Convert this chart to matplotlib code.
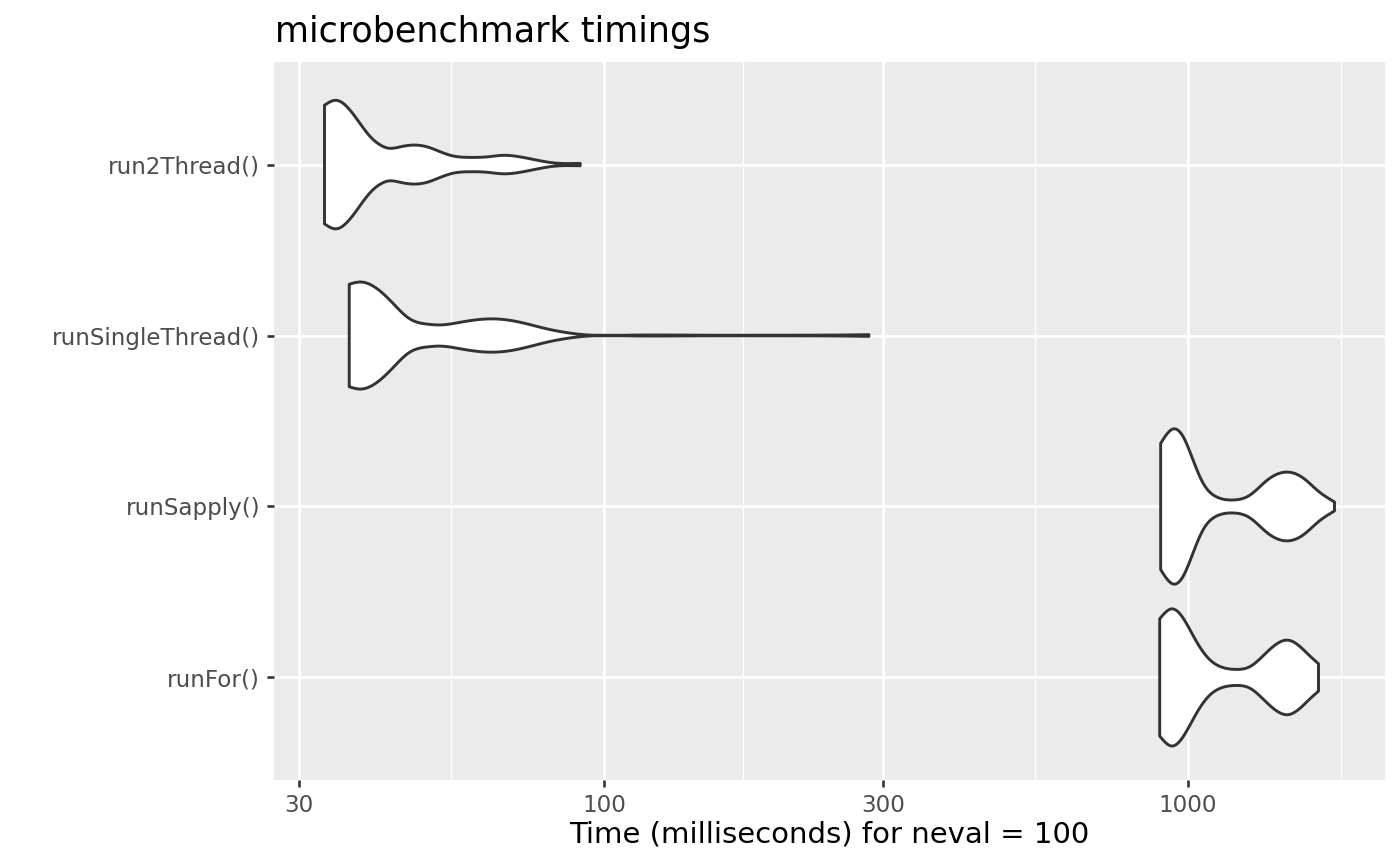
import numpy as np
import matplotlib
matplotlib.use("Agg")
import matplotlib.pyplot as plt

# categories, bottom to top
categories = ["runFor()", "runSapply()", "runSingleThread()", "run2Thread()"]

# violin outlines: time (ms) and half-width (category units)
runfor_ms = [893.8, 937.8, 979.3, 1032.4, 1087.9, 1146.5, 1208.7, 1273.5,
             1360.2, 1433.6, 1481.2, 1550.8, 1613.0, 1671.6]
runfor_hw = [0.343, 0.401, 0.349, 0.212, 0.105, 0.058, 0.047, 0.062,
             0.144, 0.206, 0.218, 0.183, 0.128, 0.080]

runsapply_ms = [897.2, 941.5, 979.3, 1018.6, 1059.6, 1117.0, 1192.9, 1273.5,
                1360.2, 1471.7, 1571.3, 1678.2, 1757.3, 1780.5]
runsapply_hw = [0.369, 0.453, 0.411, 0.275, 0.139, 0.057, 0.038, 0.065,
                0.149, 0.201, 0.168, 0.084, 0.038, 0.026]

runsingle_ms = [36.6, 38.3, 40.8, 43.5, 46.3, 50.0, 52.4, 56.6, 63.2, 68.3,
                73.8, 79.8, 86.3, 93.2, 110.0, 145.9, 200.0, 253.3, 284.0]
runsingle_hw = [0.300, 0.313, 0.275, 0.188, 0.101, 0.066, 0.062, 0.077, 0.097,
                0.091, 0.068, 0.039, 0.017, 0.004, 0.002, 0.002, 0.002, 0.003, 0.005]

run2thread_ms = [33.2, 34.7, 36.3, 38.2, 39.8, 41.4, 42.7, 44.8, 47.2, 49.7,
                 52.4, 55.2, 59.0, 63.0, 67.2, 71.8, 76.7, 81.9, 91.0]
run2thread_hw = [0.347, 0.376, 0.337, 0.240, 0.162, 0.114, 0.096, 0.104, 0.114,
                 0.104, 0.075, 0.050, 0.042, 0.045, 0.054, 0.045, 0.026, 0.010, 0.007]

x_breaks = [30, 100, 300, 1000]
x_labels = ["30", "100", "300", "1000"]

profiles = [(runfor_ms, runfor_hw), (runsapply_ms, runsapply_hw),
            (runsingle_ms, runsingle_hw), (run2thread_ms, run2thread_hw)]


def smooth_curve(x, y, xs):
    # natural cubic spline, only to draw a smooth outline through the read points
    x = np.asarray(x, float)
    y = np.asarray(y, float)
    n = len(x)
    h = np.diff(x)
    d = np.diff(y) / h
    A = np.zeros((n, n))
    r = np.zeros(n)
    A[0, 0] = A[-1, -1] = 1
    for i in range(1, n - 1):
        A[i, i - 1] = h[i - 1]
        A[i, i] = 2 * (h[i - 1] + h[i])
        A[i, i + 1] = h[i]
        r[i] = 6 * (d[i] - d[i - 1])
    M = np.linalg.solve(A, r)
    idx = np.clip(np.searchsorted(x, xs) - 1, 0, n - 2)
    hi = h[idx]
    a = x[idx + 1] - xs
    b = xs - x[idx]
    return (M[idx] * a**3 / (6 * hi) + M[idx + 1] * b**3 / (6 * hi)
            + (y[idx] / hi - M[idx] * hi / 6) * a
            + (y[idx + 1] / hi - M[idx + 1] * hi / 6) * b)


fig = plt.figure(figsize=(14, 8.65), dpi=100)
ax = fig.add_axes([274 / 1400, 1 - 780 / 865, 1111 / 1400, 718 / 865])
ax.set_facecolor("#EBEBEB")
for s in ax.spines.values():
    s.set_visible(False)

ax.set_xscale("log")

for i, (ms, hw) in enumerate(profiles):
    lx = np.log10(ms)
    xs = np.linspace(lx[0], lx[-1], 500)
    w = np.clip(smooth_curve(lx, hw, xs), 0.0015, None)
    t = 10 ** xs
    y0 = i + 1
    px = np.concatenate([t, t[::-1]])
    py = np.concatenate([y0 + w, (y0 - w)[::-1]])
    ax.fill(px, py, facecolor="white", edgecolor="#333333", linewidth=2.1,
            joinstyle="round", zorder=3)

# minor breaks like ggplot: midpoints between (extended) major breaks
lb = np.log10(x_breaks)
ext = np.concatenate([[lb[0] - (lb[1] - lb[0])], lb, [lb[-1] + (lb[-1] - lb[-2])]])
minor = 10 ** ((ext[:-1] + ext[1:]) / 2)
ax.set_xticks(x_breaks)
ax.set_xticklabels(x_labels)
ax.set_xticks(minor, minor=True)
ax.set_yticks(range(1, len(categories) + 1))
ax.set_yticklabels(categories)

# limits: 5% expansion in log space, 0.6 on the discrete axis (after ticks)
all_ms = np.log10(np.concatenate([np.asarray(p[0]) for p in profiles]))
lo, hi = all_ms.min(), all_ms.max()
pad = 0.05 * (hi - lo)
ax.set_xlim(10 ** (lo - pad), 10 ** (hi + pad))
ax.set_ylim(0.4, len(categories) + 0.6)

ax.grid(which="major", color="white", linewidth=1.95, zorder=0)
ax.grid(which="minor", axis="x", color="white", linewidth=1.0, zorder=0)
ax.set_axisbelow(True)

ax.tick_params(which="major", length=5, width=1.9, color="#333333", pad=5,
               labelsize=16.6, labelcolor="#4D4D4D")
ax.tick_params(which="minor", length=0)

fig.text(275 / 1400, 1 - 42 / 865, "microbenchmark timings", fontsize=25.2,
         color="black", ha="left", va="baseline")
fig.text(829.5 / 1400, 1 - 843 / 865, "Time (milliseconds) for neval = 100",
         fontsize=21, color="black", ha="center", va="baseline")

fig.savefig("out.png", dpi=100)
